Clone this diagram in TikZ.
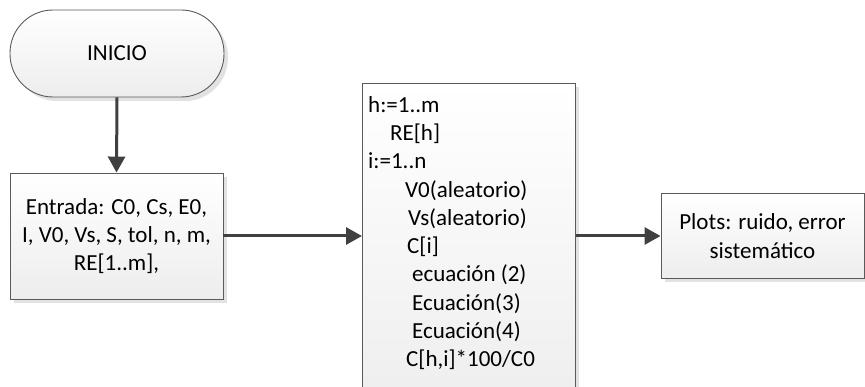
\documentclass[tikz,border=0pt]{standalone}
\usepackage{fontspec}
\setmainfont{Carlito}
\usetikzlibrary{shadows,arrows.meta}
\definecolor{edge}{HTML}{5A5A5A}
\definecolor{wire}{HTML}{404040}
\definecolor{shade}{HTML}{E2E2E2}
\definecolor{fillbot}{HTML}{EDEDED}
\tikzset{
  box/.style={draw=edge, line width=0.9pt, top color=white, bottom color=fillbot,
    inner sep=0pt, align=center,
    drop shadow={shadow xshift=4pt, shadow yshift=-4pt, fill=shade, opacity=1}},
  term/.style={box, rounded corners=43pt},
  flow/.style={draw=wire, line width=3pt, -{Triangle[length=16pt,width=17pt]}},
}
\begin{document}
\begin{tikzpicture}[x=1pt, y=-1pt, font=\fontsize{23}{28.3}\selectfont]
\useasboundingbox (0,0) rectangle (865,387);
\clip (0,0) rectangle (865,387);

% start terminator
\node[term, minimum width=214pt, minimum height=87pt] (start) at (117,53.5) {INICIO};

% input block
\node[box, minimum width=213pt, minimum height=126pt] (input) at (116.5,236)
  {Entrada: C0, Cs, E0,\\ I, V0, Vs, S, tol, n, m,\\ RE[1..m],};

% loop block (runs past the lower edge)
\node[box, minimum width=213pt, minimum height=340pt, anchor=north west] (loop) at (362,83) {};
\node[anchor=north west, inner sep=0pt, align=left] (looptext) at (368,96)
  {h:=1..m\\
   \hspace*{22pt}RE[h]\\
   i:=1..n\\
   \hspace*{37pt}V0(aleatorio)\\
   \hspace*{40pt}Vs(aleatorio)\\
   \hspace*{39pt}C[i]\\
   \hspace*{44pt}ecuación (2)\\
   \hspace*{44pt}Ecuación(3)\\
   \hspace*{44pt}Ecuación(4)\\
   \hspace*{38pt}C[h,i]*100/C0};

% output block
\node[box, minimum width=203pt, minimum height=85pt] (plots) at (762.5,236)
  {Plots: ruido, error\\ sistemático};

% connectors
\draw[flow] (start.south) -- (input.north);
\draw[flow] (input.east) -- (input.east -| loop.west);
\draw[flow] (input.east -| loop.east) -- (plots.west);
\end{tikzpicture}
\end{document}
